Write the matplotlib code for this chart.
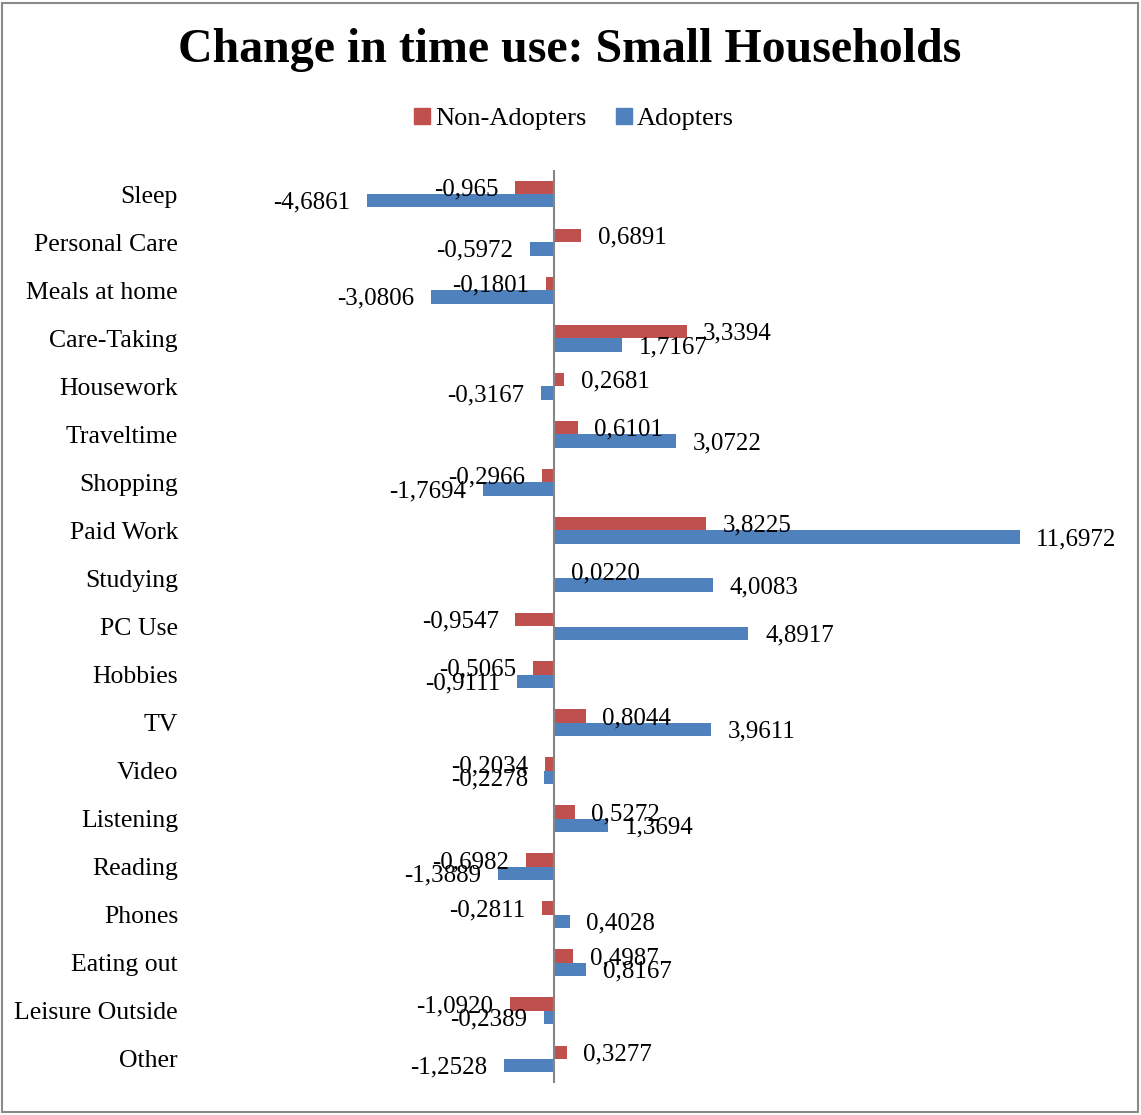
import matplotlib
matplotlib.use("Agg")
import matplotlib.pyplot as plt
from matplotlib.patches import Patch, Rectangle
import numpy as np

categories = ["Sleep", "Personal Care", "Meals at home", "Care-Taking", "Housework",
              "Traveltime", "Shopping", "Paid Work", "Studying", "PC Use", "Hobbies",
              "TV", "Video", "Listening", "Reading", "Phones", "Eating out",
              "Leisure Outside", "Other"]

# values as printed on the bar labels (decimal comma)
non_adopters_txt = ["-0,965", "0,6891", "-0,1801", "3,3394", "0,2681", "0,6101",
                    "-0,2966", "3,8225", "0,0220", "-0,9547", "-0,5065", "0,8044",
                    "-0,2034", "0,5272", "-0,6982", "-0,2811", "0,4987", "-1,0920",
                    "0,3277"]
adopters_txt = ["-4,6861", "-0,5972", "-3,0806", "1,7167", "-0,3167", "3,0722",
                "-1,7694", "11,6972", "4,0083", "4,8917", "-0,9111", "3,9611",
                "-0,2278", "1,3694", "-1,3889", "0,4028", "0,8167", "-0,2389",
                "-1,2528"]

non_adopters = np.array([float(s.replace(",", ".")) for s in non_adopters_txt])
adopters = np.array([float(s.replace(",", ".")) for s in adopters_txt])

RED = "#C0504D"
BLUE = "#4F81BD"
FONT = "Liberation Serif"

W, H = 1141, 1115
fig = plt.figure(figsize=(W / 100, H / 100), dpi=100)
plt.rcParams["font.family"] = FONT

# outer chart border
fig.patches.append(Rectangle((2 / W, 3 / H), 1136 / W, 1109 / H, transform=fig.transFigure,
                             fill=False, edgecolor="#8a8a8a", linewidth=1.5))

ax = fig.add_axes([185 / W, 1 - 1083 / H, 945 / W, 913 / H])
y = np.arange(len(categories))
h = 0.28
ax.barh(y - h / 2, non_adopters, height=h, color=RED, label="Non-Adopters")
ax.barh(y + h / 2, adopters, height=h, color=BLUE, label="Adopters")

for vals, txts, off in [(non_adopters, non_adopters_txt, -h / 2),
                        (adopters, adopters_txt, h / 2)]:
    for i, (v, t) in enumerate(zip(vals, txts)):
        ax.annotate(t, (v, i + off), xytext=(12 if v >= 0 else -12, -1.5),
                    textcoords="offset points", va="center",
                    ha="left" if v >= 0 else "right", fontsize=18, color="black")

ax.set_xlim(-9.25, 14.47)
ax.set_ylim(len(categories) - 0.5, -0.5)
ax.axvline(0, color="#868686", linewidth=1.5)
ax.set_yticks(y)
ax.set_yticklabels(categories, fontsize=18.5)
ax.tick_params(axis="y", length=0, pad=5)
ax.set_xticks([])
for s in ax.spines.values():
    s.set_visible(False)

fig.text(570 / W, 1 - 50 / H, "Change in time use: Small Households", ha="center",
         va="center", fontsize=34.5, fontweight="bold")
fig.legend(handles=[Patch(color=RED, label="Non-Adopters"), Patch(color=BLUE, label="Adopters")],
           loc="center", bbox_to_anchor=(574 / W, 1 - 119 / H), ncol=2, frameon=False,
           fontsize=19, handlelength=0.6, handleheight=0.6, handletextpad=0.2,
           columnspacing=1.1)

fig.savefig("out.png", dpi=100)
plt.close(fig)
